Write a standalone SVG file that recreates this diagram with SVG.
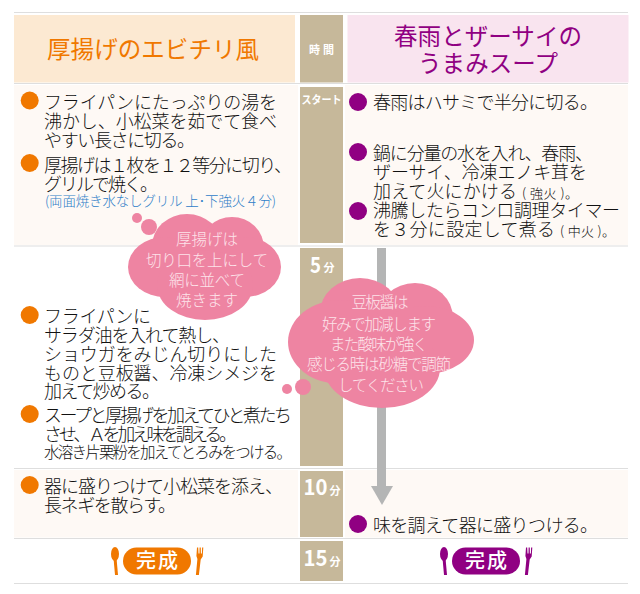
<svg xmlns="http://www.w3.org/2000/svg" width="640" height="594" viewBox="0 0 640 594">
<style>
text{font-family:"Noto Sans CJK JP","Noto Sans",sans-serif;font-weight:300}
.b{font-size:18px;fill:#111}
.s{font-size:13px;fill:#111}
.h{font-size:23.500px;text-anchor:middle;font-weight:400}
.c{font-size:15.500px;fill:#fde3ea;text-anchor:middle}
.t{fill:#fff;font-weight:700;font-size:11px;text-anchor:middle}
.tb{fill:#fff;font-weight:700;font-size:22px}
.o{fill:#f07800}.p{fill:#900082}
.g{fill:#c6b89a}.r{fill:#fef9f5}.k{fill:#ee84a2}
.l{stroke:#dedede;stroke-width:1.2;fill:none}
.d{fill:#fff;font-size:20px;font-weight:500;text-anchor:middle}
</style>
<rect width="640" height="594" fill="#fff"/>
<g id="grid">
<path class="l" d="M14 12.500H628M14 83.500H628M14 246H628M14 468.500H628M14 538.500H628M14 583.500H628"/>
<rect x="14" y="15" width="281" height="67.500" fill="#fce9d2"/>
<rect x="347.500" y="15" width="281" height="67.500" fill="#f9e4ef"/>
<rect class="r" x="14" y="85" width="284" height="160"/>
<rect class="r" x="345" y="85" width="283" height="160"/>
<rect class="r" x="14" y="470" width="284" height="67.500"/>
<rect class="r" x="345" y="470" width="283" height="67.500"/>
</g>
<g id="time-column">
<rect class="g" x="300" y="15" width="43" height="67.500"/>
<rect class="g" x="300" y="87" width="43" height="156"/>
<rect class="g" x="300" y="248" width="43" height="218"/>
<rect class="g" x="300" y="471" width="43" height="66"/>
<rect class="g" x="300" y="541" width="43" height="40"/>
<text class="t" x="321.500" y="54" textLength="25">時間</text>
<text x="321.500" y="104" class="t" textLength="40" lengthAdjust="spacingAndGlyphs">スタート</text>
<text class="tb" x="310" y="272.500" textLength="11" lengthAdjust="spacingAndGlyphs">5</text><text class="t" x="329" y="272">分</text>
<text class="tb" x="303.500" y="495" textLength="24" lengthAdjust="spacingAndGlyphs">10</text><text class="t" x="335" y="495">分</text>
<text class="tb" x="303.500" y="566" textLength="24" lengthAdjust="spacingAndGlyphs">15</text><text class="t" x="335" y="566">分</text>
</g>
<g id="header-left"><text class="h" x="153" y="58" fill="#f07800" textLength="212">厚揚げのエビチリ風</text></g>
<g id="header-right"><text class="h" x="488" y="45" fill="#900082" textLength="188">春雨とザーサイの</text><text class="h" x="488" y="72" fill="#900082" textLength="140">うまみスープ</text></g>
<g id="connectors">
<rect x="377" y="248" width="9" height="240" fill="#b4b5b5"/>
<path d="M371 486H393L382 505Z" fill="#b4b5b5"/>
</g>
<g id="steps-left">
<circle class="o" cx="29.700" cy="100.500" r="9"/>
<text class="b" x="44" y="109" textLength="233">フライパンにたっぷりの湯を</text>
<text class="b" x="44" y="128" textLength="233">沸かし、小松菜を茹でて食べ</text>
<text class="b" x="44" y="147" textLength="151">やすい長さに切る。</text>
<circle class="o" cx="29.700" cy="163" r="9"/>
<text class="b" x="44" y="172" textLength="248">厚揚げは１枚を１２等分に切り、</text>
<text class="b" x="44" y="191" textLength="114">グリルで焼く。</text>
<text x="45" y="206" font-size="13.500" fill="#2f80c8" textLength="231">(両面焼き水なしグリル 上･下強火４分)</text>
<circle class="o" cx="29.700" cy="315" r="9"/>
<text class="b" x="44" y="323" textLength="107">フライパンに</text>
<text class="b" x="44" y="342" textLength="186">サラダ油を入れて熱し、</text>
<text class="b" x="44" y="361" textLength="233">ショウガをみじん切りにした</text>
<text class="b" x="44" y="380" textLength="233">ものと豆板醤、冷凍シメジを</text>
<text class="b" x="44" y="398" textLength="116">加えて炒める。</text>
<circle class="o" cx="29.700" cy="414" r="9"/>
<text class="b" x="44" y="422" textLength="248">スープと厚揚げを加えてひと煮たち</text>
<text class="b" x="44" y="441" textLength="193">させ、Ａを加え味を調える。</text>
<text x="44" y="458" font-size="15.500" fill="#111" textLength="248">水溶き片栗粉を加えてとろみをつける。</text>
<circle class="o" cx="29.700" cy="485" r="9"/>
<text class="b" x="44" y="493" textLength="239">器に盛りつけて小松菜を添え、</text>
<text class="b" x="44" y="512" textLength="132">長ネギを散らす。</text>
</g>
<g id="steps-right">
<circle class="p" cx="358" cy="102" r="9"/>
<text class="b" x="373" y="109" textLength="225">春雨はハサミで半分に切る。</text>
<circle class="p" cx="358" cy="152" r="9"/>
<text class="b" x="373" y="160" textLength="220">鍋に分量の水を入れ、春雨、</text>
<text class="b" x="373" y="179" textLength="214">ザーサイ、冷凍エノキ茸を</text>
<text class="b" x="373" y="198" textLength="144">加えて火にかける</text>
<text class="s" x="522" y="198" textLength="56">( 強火 )。</text>
<circle class="p" cx="358" cy="211" r="9"/>
<text class="b" x="373" y="217" textLength="247">沸騰したらコンロ調理タイマー</text>
<text class="b" x="373" y="236" textLength="182">を３分に設定して煮る</text>
<text class="s" x="560" y="236" textLength="55">( 中火 )。</text>
<circle class="p" cx="358" cy="524" r="9"/>
<text class="b" x="373" y="532" textLength="225">味を調えて器に盛りつける。</text>
</g>
<g id="finish-left">
<rect class="o" x="123" y="547.500" width="68" height="27" rx="13.500"/>
<text class="d" x="157" y="568" textLength="42">完成</text>
<ellipse class="o" cx="115" cy="554" rx="4" ry="7"/><path class="o" d="M113.500 558h3l1.500 17h-3z"/>
<path class="o" d="M197 547.500h1.200l.3 6h1l.1-6h1.200l.1 6h1l.2-6h1.200l-.6 9-2 3-1.800 15.500h-3l1.500-16-1 -3z"/>
</g>
<g id="finish-right">
<rect class="p" x="452" y="547.500" width="68" height="27" rx="13.500"/>
<text class="d" x="486" y="568" textLength="42">完成</text>
<ellipse class="p" cx="444" cy="554" rx="4" ry="7"/><path class="p" d="M442.500 558h3l1.500 17h-3z"/>
<path class="p" d="M526 547.500h1.200l.3 6h1l.1-6h1.200l.1 6h1l.2-6h1.200l-.6 9-2 3-1.800 15.500h-3l1.500-16-1 -3z"/>
</g>
<g id="bubble-1">
<circle class="k" cx="137" cy="218" r="5"/><circle class="k" cx="149" cy="227" r="8"/>
<g class="k"><ellipse cx="187" cy="246" rx="35" ry="32"/><ellipse cx="232" cy="248" rx="32" ry="31"/><ellipse cx="165" cy="267" rx="37" ry="30"/><ellipse cx="245" cy="267" rx="36" ry="30"/><ellipse cx="205" cy="285" rx="48" ry="35"/></g>
<text class="c" x="207" y="245" textLength="62">厚揚げは</text>
<text class="c" x="207" y="266" textLength="122">切り口を上にして</text>
<text class="c" x="207" y="286" textLength="76">網に並べて</text>
<text class="c" x="207" y="306" textLength="62">焼きます</text>
</g>
<g id="bubble-2">
<circle class="k" cx="287" cy="389" r="5"/><circle class="k" cx="303" cy="387" r="8"/>
<g class="k"><ellipse cx="360" cy="313" rx="40" ry="35"/><ellipse cx="415" cy="318" rx="38" ry="35"/><ellipse cx="340" cy="342" rx="52" ry="42"/><ellipse cx="425" cy="340" rx="49" ry="34"/><ellipse cx="382" cy="368" rx="58" ry="40"/></g>
<text class="c" x="380" y="308" textLength="57">豆板醤は</text>
<text class="c" x="379" y="330" textLength="114">好みで加減します</text>
<text class="c" x="379" y="350" textLength="98">また酸味が強く</text>
<text class="c" x="379" y="370" textLength="144">感じる時は砂糖で調節</text>
<text class="c" x="381" y="391" textLength="86">してください</text>
</g>
</svg>
